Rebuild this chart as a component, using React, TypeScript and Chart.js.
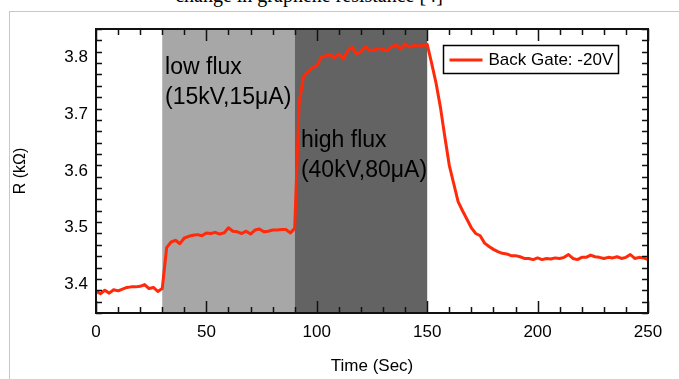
import React, { useEffect, useRef } from "react";
import { Chart, registerables } from "chart.js";

Chart.register(...registerables);

const times = [
  0, 2, 4, 6, 8, 10, 12, 14, 16, 18, 20, 22, 24, 26, 28, 30,
  32, 34, 36, 38, 40, 42, 44, 46, 48, 50, 52, 54, 56, 58, 60,
  62, 64, 66, 68, 70, 72, 74, 76, 78, 80, 82, 84, 86, 88, 90,
  92, 94, 96, 98, 100, 102, 104, 106, 108, 110, 112, 114, 116, 118, 120,
  122, 124, 126, 128, 130, 132, 134, 136, 138, 140, 142, 144, 146, 148, 150,
  152, 154, 156, 158, 160, 162, 164, 166, 168, 170,
  172, 174, 176, 178, 180, 182, 184, 186, 188, 190,
  192, 194, 196, 198, 200, 202, 204, 206, 208, 210,
  212, 214, 216, 218, 220, 222, 224, 226, 228, 230,
  232, 234, 236, 238, 240, 242, 244, 246, 248, 250,
];

const resistance = [
  3.388, 3.384, 3.39, 3.385, 3.391, 3.389, 3.392, 3.395, 3.396, 3.396, 3.397, 3.4, 3.393, 3.395, 3.388, 3.393,
  3.465, 3.475, 3.478, 3.472, 3.482, 3.485, 3.487, 3.488, 3.486, 3.491, 3.49, 3.492, 3.489, 3.491, 3.5,
  3.494, 3.493, 3.49, 3.494, 3.489, 3.496, 3.498, 3.493, 3.494, 3.496, 3.496, 3.497, 3.497, 3.491, 3.499,
  3.72, 3.766, 3.775, 3.782, 3.785, 3.8, 3.803, 3.805, 3.799, 3.806, 3.797, 3.812, 3.818, 3.806, 3.81,
  3.819, 3.812, 3.813, 3.816, 3.814, 3.812, 3.819, 3.822, 3.815, 3.824, 3.818, 3.821, 3.82, 3.821, 3.823,
  3.79, 3.755, 3.712, 3.66, 3.61, 3.578, 3.546, 3.53, 3.515, 3.5,
  3.49, 3.486, 3.473, 3.467, 3.462, 3.458, 3.455, 3.454, 3.451, 3.451,
  3.449, 3.446, 3.446, 3.444, 3.447, 3.444, 3.446, 3.445, 3.447, 3.446,
  3.448, 3.453, 3.446, 3.444, 3.448, 3.448, 3.452, 3.449, 3.448, 3.446,
  3.448, 3.447, 3.449, 3.446, 3.448, 3.453, 3.446, 3.448, 3.447, 3.444,
];

const yTickValues = [3.4, 3.5, 3.6, 3.7, 3.8];
const shadeStart = [30, 90];
const shadeEnd = [90, 150];
const annotationLines = ["low flux", "(15kV,15μA)", "high flux", "(40kV,80μA)"];
const annotationX = [31.3, 31.3, 92.8, 92.8];
const annotationY = [3.782, 3.730, 3.653, 3.601];
const seriesLabel = "Back Gate: -20V";

const FONT = '"Liberation Sans", Arial, sans-serif';
const RED = "#ff2a0a";
const SHADE_COLORS = ["#a7a7a7", "#636363"];

const decorPlugin = {
  id: "decor",
  beforeDatasetsDraw(chart: any) {
    const { ctx, chartArea: a, scales } = chart;
    const x = scales.x;
    ctx.save();
    shadeStart.forEach((s, i) => {
      const x0 = x.getPixelForValue(s);
      const x1 = x.getPixelForValue(shadeEnd[i]);
      ctx.fillStyle = SHADE_COLORS[i];
      ctx.fillRect(x0, a.top, x1 - x0, a.bottom - a.top);
    });
    ctx.restore();
  },
  afterDatasetsDraw(chart: any) {
    const { ctx, chartArea: a, scales } = chart;
    const x = scales.x;
    const y = scales.y;
    ctx.save();
    // annotations
    ctx.fillStyle = "#000";
    ctx.font = `23px ${FONT}`;
    ctx.textBaseline = "middle";
    ctx.textAlign = "left";
    annotationLines.forEach((t, i) => {
      ctx.fillText(t, x.getPixelForValue(annotationX[i]), y.getPixelForValue(annotationY[i]));
    });
    // ticks
    ctx.strokeStyle = "#111";
    ctx.lineWidth = 1.5;
    ctx.beginPath();
    for (let v = 0; v <= 250; v += 10) {
      const px = Math.round(x.getPixelForValue(v)) + 0.5;
      const len = v % 50 === 0 ? 12 : 6;
      ctx.moveTo(px, a.bottom);
      ctx.lineTo(px, a.bottom - len);
      ctx.moveTo(px, a.top);
      ctx.lineTo(px, a.top + len);
    }
    for (let k = 0; k <= 25; k++) {
      const v = 3.35 + k * 0.02;
      if (v < 3.35 || v > 3.851) continue;
      const py = Math.round(y.getPixelForValue(v)) + 0.5;
      const isMajor = Math.abs(v * 10 - Math.round(v * 10)) < 1e-6;
      const len = isMajor ? 12 : 6;
      ctx.moveTo(a.left, py);
      ctx.lineTo(a.left + len, py);
      ctx.moveTo(a.right, py);
      ctx.lineTo(a.right - len, py);
    }
    ctx.stroke();
    // frame
    ctx.lineWidth = 2;
    ctx.strokeStyle = "#111";
    ctx.strokeRect(a.left, a.top, a.right - a.left, a.bottom - a.top);
    // legend
    const lx = 443.5, ly = 45.5, lw = 175, lh = 28;
    ctx.fillStyle = "#fff";
    ctx.fillRect(lx, ly, lw, lh);
    ctx.lineWidth = 1.5;
    ctx.strokeStyle = "#000";
    ctx.strokeRect(lx, ly, lw, lh);
    ctx.strokeStyle = RED;
    ctx.lineWidth = 3;
    ctx.beginPath();
    ctx.moveTo(lx + 6, ly + 14.5);
    ctx.lineTo(lx + 39, ly + 14.5);
    ctx.stroke();
    ctx.fillStyle = "#000";
    ctx.font = `17px ${FONT}`;
    ctx.textBaseline = "middle";
    ctx.fillText(chart.data.datasets[0].label, lx + 45, ly + 14.5);
    ctx.restore();
  },
};

export default function App() {
  const ref = useRef<HTMLCanvasElement | null>(null);
  useEffect(() => {
    if (!ref.current) return;
    Chart.defaults.font.family = FONT;
    const chart = new Chart(ref.current, {
      type: "line",
      data: {
        datasets: [
          {
            label: seriesLabel,
            data: times.map((t, i) => ({ x: t, y: resistance[i] })),
            borderColor: RED,
            borderWidth: 3,
            pointRadius: 0,
            tension: 0,
            borderJoinStyle: "round",
          },
        ],
      },
      options: {
        animation: false,
        responsive: true,
        maintainAspectRatio: false,
        layout: { padding: { top: 29, right: 31, left: 0, bottom: 0 } },
        plugins: { legend: { display: false }, tooltip: { enabled: false } },
        scales: {
          x: {
            type: "linear",
            min: 0,
            max: 250,
            grid: { display: false, drawTicks: false },
            border: { display: false },
            ticks: { stepSize: 50, color: "#000", font: { size: 17 }, padding: 9, maxRotation: 0 },
            title: { display: true, text: "Time (Sec)", color: "#000", font: { size: 17 }, padding: { top: 0, bottom: 2 } },
            afterFit: (s: any) => { s.height = 66; },
          },
          y: {
            type: "linear",
            min: 3.35,
            max: 3.85,
            grid: { display: false, drawTicks: false },
            border: { display: false },
            afterBuildTicks: (s: any) => { s.ticks = yTickValues.map((v) => ({ value: v })); },
            ticks: { color: "#000", font: { size: 17 }, padding: 8, callback: (v: any) => Number(v).toFixed(1) },
            title: { display: true, text: "R (kΩ)", color: "#000", font: { size: 16 }, padding: { top: 11, bottom: 0 } },
            afterFit: (s: any) => { s.width = 96; },
          },
        },
      },
      plugins: [decorPlugin],
    });
    return () => chart.destroy();
  }, []);

  return (
    <div style={{ position: "absolute", left: 0, top: 0, width: 679, height: 379, overflow: "hidden", background: "#fff" }}>
      <div
        style={{
          position: "absolute",
          left: 0,
          width: 618,
          top: -15,
          textAlign: "center",
          fontFamily: '"Liberation Serif", "Times New Roman", serif',
          fontSize: 20,
          lineHeight: "20px",
          whiteSpace: "nowrap",
        }}
      >
        change in graphene resistance [4]
      </div>
      <div style={{ position: "absolute", left: 9, top: 11, width: 800, height: 500, border: "1px solid #c8c8c8" }} />
      <div style={{ position: "absolute", left: 0, top: 0, width: 679, height: 379 }}>
        <canvas ref={ref} />
      </div>
    </div>
  );
}
